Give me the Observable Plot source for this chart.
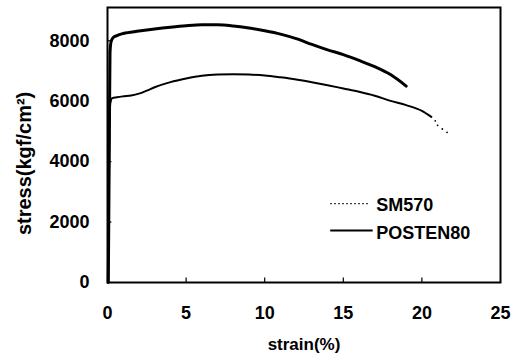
<!DOCTYPE html>
<html>
<head>
<meta charset="utf-8">
<script src="https://cdn.jsdelivr.net/npm/d3@7"></script>
<script src="https://cdn.jsdelivr.net/npm/@observablehq/plot@0.6"></script>
<style>
  html, body { margin: 0; padding: 0; background: #fff; }
  svg { font-family: "Liberation Sans", Arial, sans-serif; }
</style>
</head>
<body>
<div id="chart"></div>
<script>
// POSTEN80 (solid)
const postenStrain = [0.05, 0.08, 0.12, 0.16, 0.22, 0.35, 0.6, 1, 2, 3, 4, 5, 6, 7, 8, 9, 10, 11, 12, 13, 14, 15, 16, 17, 18, 19];
const postenStress = [0, 2000, 5000, 7600, 7950, 8100, 8170, 8240, 8320, 8390, 8450, 8500, 8530, 8530, 8490, 8420, 8330, 8220, 8070, 7880, 7700, 7540, 7350, 7140, 6880, 6500];
// SM570 (dotted)
const smStrain = [0.05, 0.08, 0.12, 0.18, 0.3, 0.6, 1, 1.5, 2, 2.5, 3, 4, 5, 6, 7, 8, 9, 10, 11, 12, 13, 14, 15, 16, 17, 18, 19, 20, 20.6];
const smStress = [0, 2000, 5000, 5950, 6100, 6130, 6160, 6190, 6250, 6350, 6460, 6630, 6750, 6840, 6880, 6890, 6880, 6850, 6790, 6720, 6630, 6530, 6420, 6310, 6180, 6010, 5870, 5680, 5480];
const smTailStrain = [20.85, 21.0, 21.3, 21.6];
const smTailStress = [5350, 5200, 5080, 4970];
// axes
const xTicks = [0, 5, 10, 15, 20, 25];
const yTicks = [0, 2000, 4000, 6000, 8000];
const seriesNames = ["SM570", "POSTEN80"];

const posten = postenStrain.map((x, i) => ({x, y: postenStress[i]}));
const sm = smStrain.map((x, i) => ({x, y: smStress[i]}));
const smTail = smTailStrain.map((x, i) => ({x, y: smTailStress[i]}));

const font = {fontSize: 18, fontWeight: "bold"};

const chart = Plot.plot({
  width: 518,
  height: 357,
  marginLeft: 107,
  marginRight: 18,
  marginTop: 7,
  marginBottom: 75,
  style: {fontFamily: "Liberation Sans, Arial, sans-serif", background: "#fff", color: "#000"},
  x: {domain: [0, 25]},
  y: {domain: [0, 9100]},
  marks: [
    Plot.axisX(xTicks, {tickSize: 0, tickPadding: 24, label: null, ...font, tickFormat: d => String(d)}),
    Plot.axisY(yTicks, {tickSize: 0, tickPadding: 18, label: null, ...font, tickFormat: d => String(d)}),
    // inner ticks
    Plot.ruleX(xTicks.slice(1, -1), {y1: 0, y2: 150, stroke: "#000", strokeWidth: 1.2}),
    Plot.ruleY(yTicks.slice(1), {x1: 0, x2: 0.28, stroke: "#000", strokeWidth: 1.2}),
    // series
    Plot.line(sm, {x: "x", y: "y", stroke: "#000", strokeWidth: 2, curve: "monotone-x"}),
    Plot.dot(smTail, {x: "x", y: "y", r: 0.9, fill: "#000", stroke: null}),
    Plot.line(posten, {x: "x", y: "y", stroke: "#000", strokeWidth: 3, curve: "monotone-x"}),
    // legend
    Plot.ruleY([seriesNames[0]], {y: () => 2610, x1: 14.2, x2: 16.6, stroke: "#000", strokeWidth: 1.2, strokeDasharray: "1.5,2.5"}),
    Plot.ruleY([seriesNames[1]], {y: () => 1720, x1: 14.2, x2: 16.9, stroke: "#000", strokeWidth: 2}),
    Plot.text([seriesNames[0]], {x: () => 17.1, y: () => 2560, text: d => d, textAnchor: "start", ...font}),
    Plot.text([seriesNames[1]], {x: () => 17.1, y: () => 1620, text: d => d, textAnchor: "start", ...font}),
    // axis titles
    Plot.text(["strain(%)"], {frameAnchor: "bottom", dy: 67, text: d => d, ...font, fontSize: 17}),
    Plot.text(["stress(kgf/cm²)"], {x: () => -5.3, y: () => 3940, rotate: -90, text: d => d, ...font, fontSize: 20, letterSpacing: "0.7px"}),
    Plot.frame({stroke: "#000", strokeWidth: 2})
  ]
});
document.getElementById("chart").appendChild(chart);
</script>
</body>
</html>
